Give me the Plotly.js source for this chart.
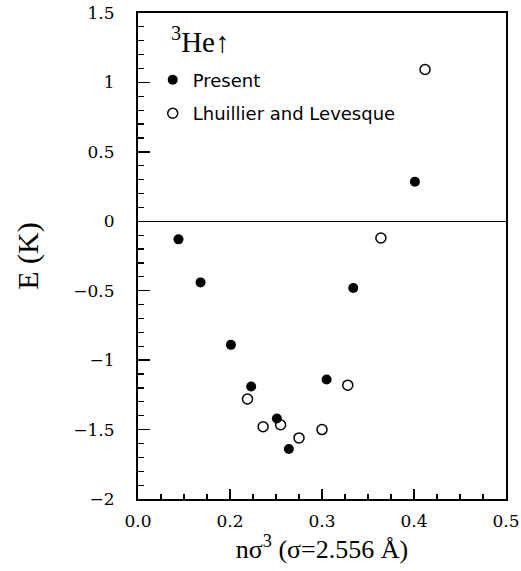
<!DOCTYPE html>
<html>
<head>
<meta charset="utf-8">
<script src="https://cdn.plot.ly/plotly-3.0.1.min.js"></script>
<style>html,body{margin:0;padding:0;background:#fff;}</style>
</head>
<body>
<div id="chart" style="width:521px;height:571px;"></div>
<script>
// Present work (filled circles)
const presentX = [0.144, 0.168, 0.201, 0.223, 0.251, 0.264, 0.305, 0.334, 0.401];
const presentE = [-0.13, -0.44, -0.89, -1.19, -1.42, -1.64, -1.14, -0.48, 0.285];
// Lhuillier and Levesque (open circles)
const llX = [0.219, 0.236, 0.255, 0.275, 0.300, 0.328, 0.364, 0.412];
const llE = [-1.28, -1.48, -1.465, -1.56, -1.50, -1.18, -0.12, 1.093];
// x tick labels (as printed on the original)
const xTickVals = [0.1, 0.2, 0.3, 0.4, 0.5];
const xTickText = ["0.0", "0.2", "0.3", "0.4", "0.5"];

const serif = "DejaVu Serif";
const titleSerif = "Liberation Serif";
const sans = "DejaVu Sans";

const traces = [
  {
    x: presentX, y: presentE, mode: "markers", type: "scatter",
    name: "Present", legendgroup: "a",
    marker: {symbol: "circle", size: 10, color: "#000"}
  },
  {
    x: llX, y: llE, mode: "markers", type: "scatter",
    name: "Lhuillier and Levesque", legendgroup: "b",
    marker: {symbol: "circle-open", size: 10, color: "#000", line: {width: 1.5, color: "#000"}}
  }
];

const layout = {
  width: 521, height: 571,
  margin: {l: 138, r: 15, t: 13, b: 72},
  paper_bgcolor: "#fff", plot_bgcolor: "#fff",
  showlegend: true,
  legend: {
    x: 0.04, xanchor: "left", y: 0.90, yanchor: "top",
    bgcolor: "rgba(0,0,0,0)", borderwidth: 0,
    font: {family: sans, size: 18, color: "#000"},
    traceorder: "grouped", tracegroupgap: 7, itemwidth: 30
  },
  xaxis: {
    range: [0.1, 0.5],
    tickmode: "array", tickvals: xTickVals, ticktext: xTickText,
    ticks: "inside", ticklen: 10, tickwidth: 1.5, tickcolor: "#000",
    minor: {dtick: 0.025, tick0: 0.1, ticks: "inside", ticklen: 5, tickwidth: 1.2, tickcolor: "#000"},
    showline: true, linewidth: 2, linecolor: "#000", mirror: true,
    showgrid: false, zeroline: false,
    ticklabelstandoff: 6,
    tickfont: {family: serif, size: 17, color: "#000"},
    title: {text: "nσ<sup>3</sup> (σ=2.556 Å)", font: {family: titleSerif, size: 26, color: "#000"}, standoff: 6}
  },
  yaxis: {
    range: [-2, 1.5],
    tickmode: "linear", tick0: -2, dtick: 0.5,
    ticks: "inside", ticklen: 12, tickwidth: 1.5, tickcolor: "#000",
    minor: {dtick: 0.1, ticks: "inside", ticklen: 6, tickwidth: 1.2, tickcolor: "#000"},
    showline: true, linewidth: 2, linecolor: "#000", mirror: true,
    showgrid: false,
    zeroline: true, zerolinecolor: "#000", zerolinewidth: 1.3,
    ticklabelstandoff: 18,
    tickfont: {family: serif, size: 17, color: "#000"},
    title: {text: "E (K)", font: {family: titleSerif, size: 30, color: "#000"}, standoff: 26}
  },
  annotations: [
    {
      xref: "paper", yref: "paper", x: 0.085, y: 0.945, xanchor: "left", yanchor: "middle",
      text: "<sup>3</sup>He<b>↑</b>", showarrow: false,
      font: {family: titleSerif, size: 29, color: "#000"}
    }
  ]
};

Plotly.newPlot("chart", traces, layout, {displayModeBar: false, staticPlot: true});
</script>
</body>
</html>
